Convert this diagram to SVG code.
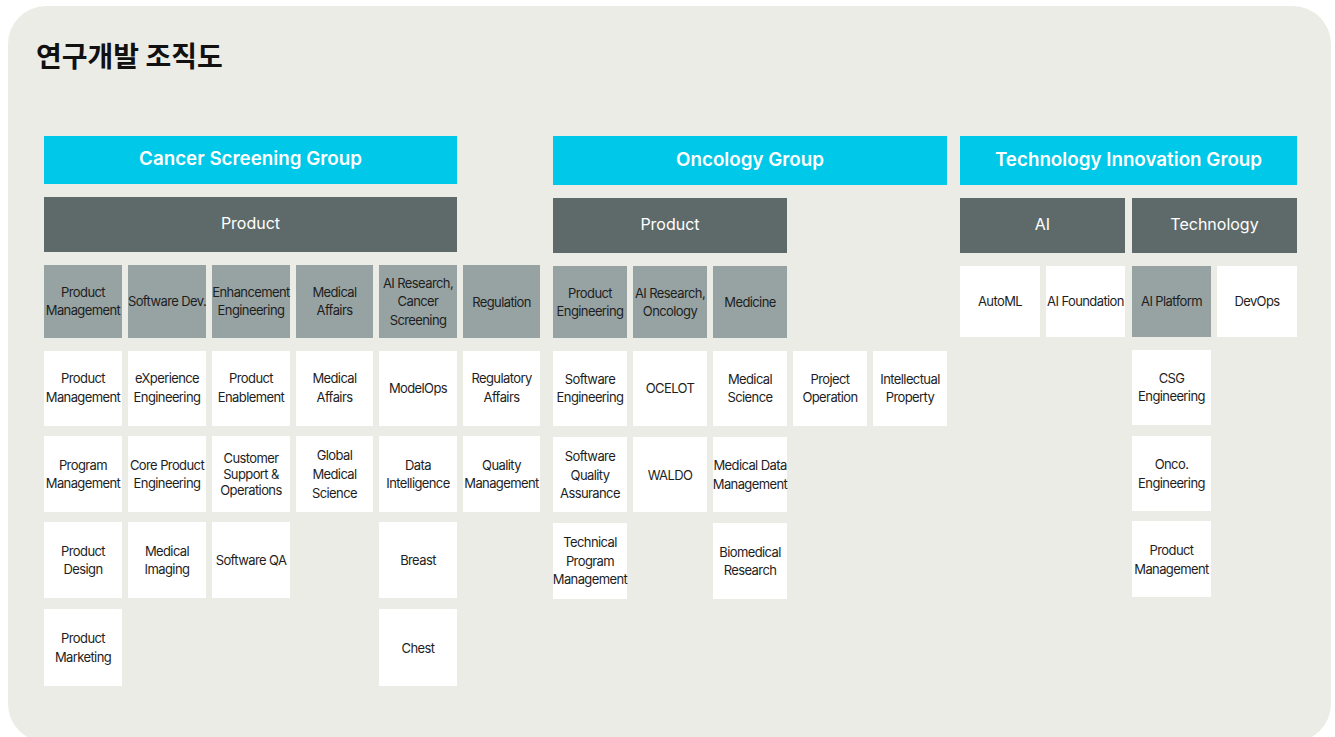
<svg xmlns="http://www.w3.org/2000/svg" width="1335" height="737" viewBox="0 0 1335 737">
<style>
.bg{fill:#ECECE7}
.grp{fill:#00C8E8}
.dept{fill:#5E6A6A}
.team{fill:#97A3A3}
.unit{fill:#FFFFFF}
.t{font-family:Inter,"Noto Sans",sans-serif;font-size:13px;letter-spacing:-0.6px;fill:#1E1E1E;text-anchor:middle}
.gt{font-family:Inter,"Noto Sans",sans-serif;font-size:18.8px;font-weight:600;fill:#FFFFFF;text-anchor:middle}
.dt{font-family:Inter,"Noto Sans",sans-serif;font-size:16px;fill:#FFFFFF;text-anchor:middle}
.title{font-family:"Noto Sans CJK KR","Noto Sans",sans-serif;font-size:28px;font-weight:700;fill:#111111}
</style>
<rect x="0" y="0" width="1335" height="737" fill="#FFFFFF"/>
<rect class="bg" x="8" y="6" width="1323" height="736" rx="38"/>
<text class="title" x="36" y="67">연구개발 조직도</text>
<g id="connectors"/>

<!-- Cancer Screening Group -->
<g id="csg"><rect class="grp" x="44" y="136" width="413" height="48"/><text class="gt" x="250.5" y="165">Cancer Screening Group</text></g>
<g id="csg-product"><rect class="dept" x="44" y="197" width="413" height="55"/><text class="dt" x="250.5" y="229">Product</text></g>

<g id="csg-pm"><rect class="team" x="44" y="265" width="78" height="73"/><text class="t" x="83" y="297">Product</text><text class="t" x="83" y="315">Management</text></g>
<g id="csg-swdev"><rect class="team" x="128" y="265" width="78" height="73"/><text class="t" x="167" y="306">Software Dev.</text></g>
<g id="csg-enh"><rect class="team" x="212" y="265" width="78" height="73"/><text class="t" x="251" y="297">Enhancement</text><text class="t" x="251" y="315">Engineering</text></g>
<g id="csg-ma"><rect class="team" x="296" y="265" width="77" height="73"/><text class="t" x="334.5" y="297">Medical</text><text class="t" x="334.5" y="315">Affairs</text></g>
<g id="csg-air"><rect class="team" x="379" y="265" width="78" height="73"/><text class="t" x="418" y="288">AI Research,</text><text class="t" x="418" y="306">Cancer</text><text class="t" x="418" y="325">Screening</text></g>
<g id="csg-reg"><rect class="team" x="463" y="265" width="77" height="73"/><text class="t" x="501.5" y="307">Regulation</text></g>

<g id="csg-u-pm"><rect class="unit" x="44" y="351" width="78" height="75"/><text class="t" x="83" y="383">Product</text><text class="t" x="83" y="402">Management</text></g>
<g id="csg-u-prgm"><rect class="unit" x="44" y="436" width="78" height="76"/><text class="t" x="83" y="470">Program</text><text class="t" x="83" y="488">Management</text></g>
<g id="csg-u-pd"><rect class="unit" x="44" y="522" width="78" height="76"/><text class="t" x="83" y="556">Product</text><text class="t" x="83" y="574">Design</text></g>
<g id="csg-u-pmk"><rect class="unit" x="44" y="609" width="78" height="77"/><text class="t" x="83" y="643">Product</text><text class="t" x="83" y="662">Marketing</text></g>

<g id="csg-u-xe"><rect class="unit" x="128" y="351" width="78" height="75"/><text class="t" x="167" y="383">eXperience</text><text class="t" x="167" y="402">Engineering</text></g>
<g id="csg-u-cpe"><rect class="unit" x="128" y="436" width="78" height="76"/><text class="t" x="167" y="470">Core Product</text><text class="t" x="167" y="488">Engineering</text></g>
<g id="csg-u-mi"><rect class="unit" x="128" y="522" width="78" height="76"/><text class="t" x="167" y="556">Medical</text><text class="t" x="167" y="574">Imaging</text></g>

<g id="csg-u-pe"><rect class="unit" x="212" y="351" width="78" height="75"/><text class="t" x="251" y="383">Product</text><text class="t" x="251" y="402">Enablement</text></g>
<g id="csg-u-cso"><rect class="unit" x="212" y="436" width="78" height="76"/><text class="t" x="251" y="463">Customer</text><text class="t" x="251" y="479">Support &amp;</text><text class="t" x="251" y="495">Operations</text></g>
<g id="csg-u-sqa"><rect class="unit" x="212" y="522" width="78" height="76"/><text class="t" x="251" y="565">Software QA</text></g>

<g id="csg-u-ma"><rect class="unit" x="296" y="351" width="77" height="75"/><text class="t" x="334.5" y="383">Medical</text><text class="t" x="334.5" y="402">Affairs</text></g>
<g id="csg-u-gms"><rect class="unit" x="296" y="436" width="77" height="76"/><text class="t" x="334.5" y="460">Global</text><text class="t" x="334.5" y="479">Medical</text><text class="t" x="334.5" y="498">Science</text></g>

<g id="csg-u-mo"><rect class="unit" x="379" y="351" width="78" height="75"/><text class="t" x="418" y="393">ModelOps</text></g>
<g id="csg-u-di"><rect class="unit" x="379" y="436" width="78" height="76"/><text class="t" x="418" y="470">Data</text><text class="t" x="418" y="488">Intelligence</text></g>
<g id="csg-u-br"><rect class="unit" x="379" y="522" width="78" height="76"/><text class="t" x="418" y="565">Breast</text></g>
<g id="csg-u-ch"><rect class="unit" x="379" y="609" width="78" height="77"/><text class="t" x="418" y="653">Chest</text></g>

<g id="csg-u-ra"><rect class="unit" x="463" y="351" width="77" height="75"/><text class="t" x="501.5" y="383">Regulatory</text><text class="t" x="501.5" y="402">Affairs</text></g>
<g id="csg-u-qm"><rect class="unit" x="463" y="436" width="77" height="76"/><text class="t" x="501.5" y="470">Quality</text><text class="t" x="501.5" y="488">Management</text></g>

<!-- Oncology Group -->
<g id="onc"><rect class="grp" x="553" y="136" width="394" height="49"/><text class="gt" x="750" y="166">Oncology Group</text></g>
<g id="onc-product"><rect class="dept" x="553" y="198" width="234" height="55"/><text class="dt" x="670" y="230">Product</text></g>

<g id="onc-pe"><rect class="team" x="553" y="266" width="74" height="72"/><text class="t" x="590" y="298">Product</text><text class="t" x="590" y="316">Engineering</text></g>
<g id="onc-air"><rect class="team" x="633" y="266" width="74" height="72"/><text class="t" x="670" y="298">AI Research,</text><text class="t" x="670" y="316">Oncology</text></g>
<g id="onc-med"><rect class="team" x="713" y="266" width="74" height="72"/><text class="t" x="750" y="307">Medicine</text></g>

<g id="onc-u-se"><rect class="unit" x="553" y="351" width="74" height="75"/><text class="t" x="590" y="384">Software</text><text class="t" x="590" y="402">Engineering</text></g>
<g id="onc-u-sqa"><rect class="unit" x="553" y="437" width="74" height="75"/><text class="t" x="590" y="461">Software</text><text class="t" x="590" y="480">Quality</text><text class="t" x="590" y="498">Assurance</text></g>
<g id="onc-u-tpm"><rect class="unit" x="553" y="523" width="74" height="76"/><text class="t" x="590" y="547">Technical</text><text class="t" x="590" y="566">Program</text><text class="t" x="590" y="584">Management</text></g>

<g id="onc-u-oc"><rect class="unit" x="633" y="351" width="74" height="75"/><text class="t" x="670" y="393">OCELOT</text></g>
<g id="onc-u-wa"><rect class="unit" x="633" y="437" width="74" height="75"/><text class="t" x="670" y="480">WALDO</text></g>

<g id="onc-u-ms"><rect class="unit" x="713" y="351" width="74" height="75"/><text class="t" x="750" y="384">Medical</text><text class="t" x="750" y="402">Science</text></g>
<g id="onc-u-mdm"><rect class="unit" x="713" y="437" width="74" height="75"/><text class="t" x="750" y="470">Medical Data</text><text class="t" x="750" y="489">Management</text></g>
<g id="onc-u-br"><rect class="unit" x="713" y="523" width="74" height="76"/><text class="t" x="750" y="557">Biomedical</text><text class="t" x="750" y="575">Research</text></g>

<g id="onc-u-po"><rect class="unit" x="793" y="351" width="74" height="75"/><text class="t" x="830" y="384">Project</text><text class="t" x="830" y="402">Operation</text></g>
<g id="onc-u-ip"><rect class="unit" x="873" y="351" width="74" height="75"/><text class="t" x="910" y="384">Intellectual</text><text class="t" x="910" y="402">Property</text></g>

<!-- Technology Innovation Group -->
<g id="tig"><rect class="grp" x="960" y="136" width="337" height="49"/><text class="gt" x="1128.5" y="166">Technology Innovation Group</text></g>
<g id="tig-ai"><rect class="dept" x="960" y="198" width="165" height="55"/><text class="dt" x="1042.5" y="230">AI</text></g>
<g id="tig-tech"><rect class="dept" x="1132" y="198" width="165" height="55"/><text class="dt" x="1214.5" y="230">Technology</text></g>

<g id="tig-automl"><rect class="unit" x="960" y="266" width="80" height="71"/><text class="t" x="1000" y="306">AutoML</text></g>
<g id="tig-aif"><rect class="unit" x="1046" y="266" width="79" height="71"/><text class="t" x="1085.5" y="306">AI Foundation</text></g>
<g id="tig-aip"><rect class="team" x="1132" y="266" width="79" height="71"/><text class="t" x="1171.5" y="306">AI Platform</text></g>
<g id="tig-devops"><rect class="unit" x="1217" y="266" width="80" height="71"/><text class="t" x="1257" y="306">DevOps</text></g>

<g id="tig-u-csg"><rect class="unit" x="1132" y="350" width="79" height="75"/><text class="t" x="1171.5" y="383">CSG</text><text class="t" x="1171.5" y="401">Engineering</text></g>
<g id="tig-u-onco"><rect class="unit" x="1132" y="436" width="79" height="75"/><text class="t" x="1171.5" y="469">Onco.</text><text class="t" x="1171.5" y="488">Engineering</text></g>
<g id="tig-u-pm"><rect class="unit" x="1132" y="521" width="79" height="76"/><text class="t" x="1171.5" y="555">Product</text><text class="t" x="1171.5" y="574">Management</text></g>
</svg>
